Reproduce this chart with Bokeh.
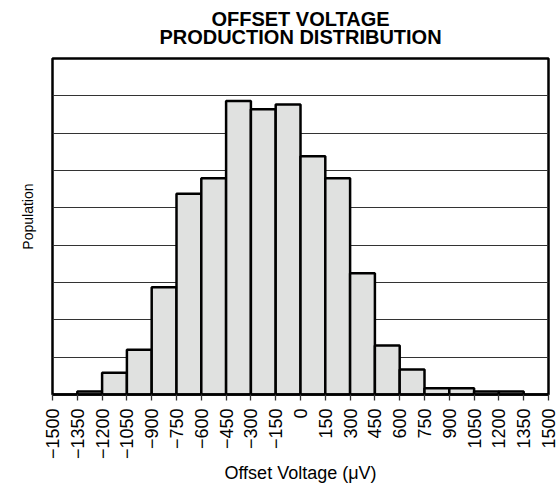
import math
from bokeh.plotting import figure
from bokeh.models import FixedTicker, Title
from bokeh.embed import file_html
from bokeh.resources import INLINE

# Data: histogram bins (left edges, µV), bin width, relative population (grid units)
bin_left = [-1350, -1200, -1050, -900, -750, -600, -450, -300, -150,
            0, 150, 300, 450, 600, 750, 900, 1050, 1200]
bin_width = 150
population = [0.08, 0.58, 1.2, 2.87, 5.38, 5.79, 7.86, 7.64, 7.77,
              6.38, 5.79, 3.25, 1.31, 0.67, 0.17, 0.17, 0.08, 0.08]

x_ticks = [-1500, -1350, -1200, -1050, -900, -750, -600, -450, -300, -150,
           0, 150, 300, 450, 600, 750, 900, 1050, 1200, 1350, 1500]
x_tick_labels = ["\u22121500", "\u22121350", "\u22121200", "\u22121050", "\u2212900",
                 "\u2212750", "\u2212600", "\u2212450", "\u2212300", "\u2212150",
                 "0", "150", "300", "450", "600", "750", "900", "1050", "1200",
                 "1350", "1500"]
y_grid = [0, 1, 2, 3, 4, 5, 6, 7, 8, 9]

FONT = "Liberation Sans"

p = figure(width=560, height=487, x_range=(-1500, 1500), y_range=(0, 9),
           output_backend="svg", toolbar_location=None,
           min_border_left=52, min_border_right=12, min_border_top=58,
           min_border_bottom=93)

p.title = None
t2 = Title(text="PRODUCTION DISTRIBUTION", align="center",
           text_font=FONT, text_font_size="20px", text_font_style="bold",
           text_color="black", standoff=21)
t1 = Title(text="OFFSET VOLTAGE", align="center",
           text_font=FONT, text_font_size="20px", text_font_style="bold",
           text_color="black", standoff=-33)
p.add_layout(t2, "above")
p.add_layout(t1, "above")

ylab = Title(text="Population", align="right", offset=125,
             vertical_align="middle",
             text_font=FONT, text_font_size="14px", text_font_style="normal",
             text_color="black", standoff=31)
p.add_layout(ylab, "left")

right = [l + bin_width for l in bin_left]
bottom = [0] * len(bin_left)
p.quad(left=bin_left, right=right, top=population, bottom=bottom,
       fill_color="#e0e1e0", line_color="black", line_width=2.5)

p.outline_line_color = "black"
p.outline_line_width = 2.5
p.outline_line_alpha = 1.0

p.xgrid.visible = False
p.ygrid.ticker = FixedTicker(ticks=y_grid)
p.ygrid.grid_line_color = "#333333"
p.ygrid.grid_line_width = 1.2

p.yaxis.visible = False

xa = p.xaxis[0]
xa.ticker = FixedTicker(ticks=x_ticks)
xa.major_label_overrides = {tk: lb for tk, lb in zip(x_ticks, x_tick_labels)}
xa.major_label_orientation = math.pi / 2
xa.major_label_text_font = FONT
xa.major_label_text_font_size = "18px"
xa.major_label_text_color = "black"
xa.major_label_standoff = 8
xa.major_tick_in = 0
xa.major_tick_out = 6
xa.major_tick_line_color = "#333333"
xa.major_tick_line_width = 1.3
xa.minor_tick_line_color = None
xa.axis_line_color = "black"
xa.axis_line_width = 2.5
xa.axis_label = "Offset Voltage (\u03bcV)"
xa.axis_label_text_font = FONT
xa.axis_label_text_font_size = "18px"
xa.axis_label_text_font_style = "normal"
xa.axis_label_text_color = "black"
xa.axis_label_standoff = 1

open("out.html", "w").write(file_html(p, INLINE))
